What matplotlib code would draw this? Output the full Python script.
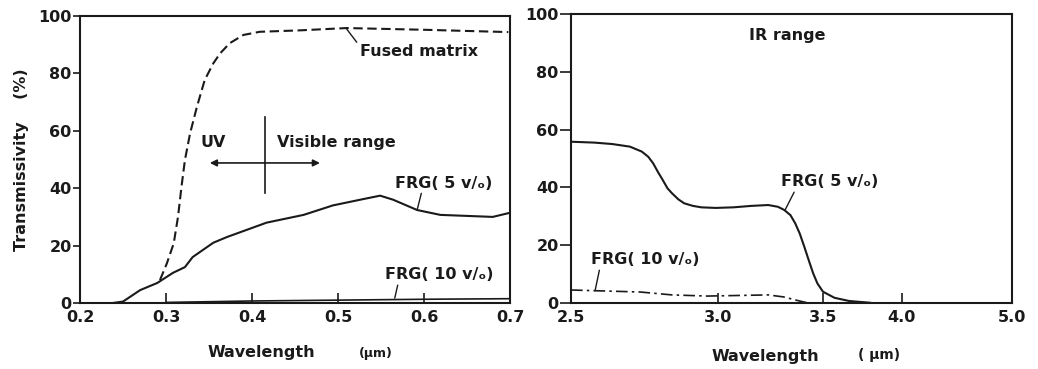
import numpy as np
import matplotlib
matplotlib.use("Agg")
import matplotlib.pyplot as plt

# ---------------- data ----------------
# UV / visible range (left panel)
fused_x = [0.293, 0.301, 0.309, 0.314, 0.318, 0.322, 0.328, 0.336, 0.345, 0.355, 0.363, 0.374, 0.390, 0.409, 0.456, 0.51, 0.60, 0.698]
fused_y = [8.0, 13.8, 20.8, 30.1, 40.5, 49.8, 59.1, 68.4, 77.7, 83.5, 87.0, 90.5, 93.4, 94.5, 95.0, 95.8, 95.2, 94.4]

frg5_vis_x = [0.238, 0.25, 0.27, 0.29, 0.308, 0.322, 0.331, 0.355, 0.371, 0.417, 0.46, 0.494, 0.526, 0.549, 0.564, 0.592, 0.619, 0.68, 0.698]
frg5_vis_y = [0.0, 0.5, 4.5, 7.0, 10.5, 12.5, 16, 21, 23, 28, 30.7, 34, 36, 37.4, 36, 32.4, 30.7, 30, 31.3]

frg10_vis_x = [0.30, 0.40, 0.50, 0.60, 0.70]
frg10_vis_y = [0.2, 0.7, 1.0, 1.3, 1.5]

# IR range (right panel)
frg5_ir_x = [2.501, 2.568, 2.623, 2.679, 2.718, 2.74, 2.757, 2.773, 2.79, 2.807, 2.823, 2.846, 2.868,
             2.901, 2.934, 2.99, 3.064, 3.142, 3.22, 3.266, 3.297, 3.328, 3.352, 3.375, 3.399, 3.422,
             3.446, 3.469, 3.5, 3.565, 3.651, 3.781]
frg5_ir_y = [55.8, 55.5, 55.0, 54.1, 52.4, 50.6, 48.3, 45.4, 42.6, 39.7, 38.0, 35.9, 34.5,
             33.6, 33.1, 32.9, 33.1, 33.6, 33.9, 33.3, 32.2, 30.4, 27.6, 24.1, 19.5, 14.9,
             10.3, 6.8, 3.9, 1.8, 0.7, 0.1]

frg10_ir_x = [2.5, 2.713, 2.823, 2.957, 3.22, 3.294, 3.374, 3.42]
frg10_ir_y = [4.5, 3.8, 2.8, 2.4, 2.8, 2.1, 0.7, 0.0]

vis_xticks = [0.2, 0.3, 0.4, 0.5, 0.6, 0.7]
vis_xlabels = ["0.2", "0.3", "0.4", "0.5", "0.6", "0.7"]
ir_xticks = [2.5, 3.0, 3.5, 4.0, 5.0]
ir_xlabels = ["2.5", "3.0", "3.5", "4.0", "5.0"]
yticks = [0, 20, 40, 60, 80, 100]

# ---------------- figure ----------------
plt.rcParams['font.family'] = ['DejaVu Sans']
plt.rcParams['font.weight'] = 'bold'
W, H = 1038, 369
fig = plt.figure(figsize=(W / 100, H / 100), dpi=100)

def frac_box(x0, y0, x1, y1):
    return [x0 / W, 1 - y1 / H, (x1 - x0) / W, (y1 - y0) / H]

ink = "#1a1a1a"
fs = 11.5

axL = fig.add_axes(frac_box(80, 16, 510, 303))
axR = fig.add_axes(frac_box(571, 14, 1012, 303))

for ax in (axL, axR):
    for s in ax.spines.values():
        s.set_linewidth(1.5)
        s.set_color(ink)
    ax.set_ylim(0, 100)
    ax.set_yticks(yticks)
    ax.tick_params(axis='x', direction='in', length=7, width=1.2, pad=5, labelsize=fs, colors=ink)
axL.tick_params(axis='y', direction='out', length=5, width=1.2, pad=1, labelsize=fs, colors=ink)
axR.tick_params(axis='y', direction='out', length=8, width=1.2, pad=1, labelsize=fs, colors=ink)

# left panel
axL.set_xlim(0.2, 0.7)
axL.set_xticks(vis_xticks)
axL.set_xticklabels(vis_xlabels)
axL.plot(fused_x, fused_y, color=ink, lw=1.5, ls=(0, (4.5, 2.2)))
axL.plot(frg5_vis_x, frg5_vis_y, color=ink, lw=1.5)
axL.plot(frg10_vis_x, frg10_vis_y, color=ink, lw=1.2)

axL.annotate("Fused matrix", xy=(0.51, 95.5), xytext=(0.525, 87.5),
             fontsize=fs, va='center', ha='left', color=ink,
             arrowprops=dict(arrowstyle='-', color=ink, lw=1, shrinkA=0, shrinkB=0,
                             relpos=(0, 0.9)))
axL.text(0.355, 56, "UV", fontsize=fs, ha='center', va='center', color=ink)
axL.text(0.429, 56, "Visible range", fontsize=fs, ha='left', va='center', color=ink)
axL.plot([0.415, 0.415], [38.3, 64.8], color=ink, lw=1.2)
axL.annotate("", xy=(0.351, 48.8), xytext=(0.415, 48.8),
             arrowprops=dict(arrowstyle='-|>', color=ink, lw=1.2, shrinkA=0, shrinkB=0,
                             mutation_scale=10))
axL.annotate("", xy=(0.479, 48.8), xytext=(0.415, 48.8),
             arrowprops=dict(arrowstyle='-|>', color=ink, lw=1.2, shrinkA=0, shrinkB=0,
                             mutation_scale=10))
axL.annotate("FRG( 5 v/ₒ)", xy=(0.592, 32.4), xytext=(0.566, 41.8),
             fontsize=fs, va='center', ha='left', color=ink,
             arrowprops=dict(arrowstyle='-', color=ink, lw=1, shrinkA=0, shrinkB=0,
                             relpos=(0.28, 0)))
axL.annotate("FRG( 10 v/ₒ)", xy=(0.566, 1.7), xytext=(0.555, 9.8),
             fontsize=fs, va='center', ha='left', color=ink,
             arrowprops=dict(arrowstyle='-', color=ink, lw=1, shrinkA=0, shrinkB=0,
                             relpos=(0.12, 0)))

# right panel: reciprocal (wavenumber-like) x scale
def fwd(x):
    x = np.asarray(x, dtype=float)
    with np.errstate(divide='ignore', invalid='ignore'):
        return -1.0 / x

def inv(y):
    y = np.asarray(y, dtype=float)
    with np.errstate(divide='ignore', invalid='ignore'):
        return -1.0 / y

axR.set_xscale('function', functions=(fwd, inv))
axR.set_xlim(2.5, 5.0)
axR.set_xticks(ir_xticks)
axR.set_xticklabels(ir_xlabels)
axR.xaxis.set_minor_locator(matplotlib.ticker.NullLocator())
axR.plot(frg5_ir_x, frg5_ir_y, color=ink, lw=1.5)
axR.plot(frg10_ir_x, frg10_ir_y, color=ink, lw=1.2, ls=(0, (7, 2.5, 1.5, 2.5)))

axR.text(0.403, 0.927, "IR range", transform=axR.transAxes, fontsize=fs,
         ha='left', va='center', color=ink)
axR.annotate("FRG( 5 v/ₒ)", xy=(3.3, 32.0), xytext=(0.476, 0.419),
             textcoords='axes fraction', fontsize=fs, va='center', ha='left', color=ink,
             arrowprops=dict(arrowstyle='-', color=ink, lw=1, shrinkA=0, shrinkB=0,
                             relpos=(0.15, 0)))
axR.annotate("FRG( 10 v/ₒ)", xy=(2.57, 4.2), xytext=(0.046, 0.149),
             textcoords='axes fraction', fontsize=fs, va='center', ha='left', color=ink,
             arrowprops=dict(arrowstyle='-', color=ink, lw=1, shrinkA=0, shrinkB=0,
                             relpos=(0.08, 0)))

# axis labels
fig.text(22 / W, 1 - 160 / H, "Transmissivity    (%)", rotation=90, fontsize=fs,
         ha='center', va='center', color=ink)
fig.text(261 / W, 1 - 352 / H, "Wavelength", fontsize=fs, ha='center', va='center', color=ink)
fig.text(376 / W, 1 - 354 / H, "(µm)", fontsize=9, ha='center', va='center', color=ink)
fig.text(765 / W, 1 - 357 / H, "Wavelength", fontsize=fs, ha='center', va='center', color=ink)
fig.text(879 / W, 1 - 355 / H, "( µm)", fontsize=10, ha='center', va='center', color=ink)

fig.savefig("out.png", dpi=100, facecolor='white')
